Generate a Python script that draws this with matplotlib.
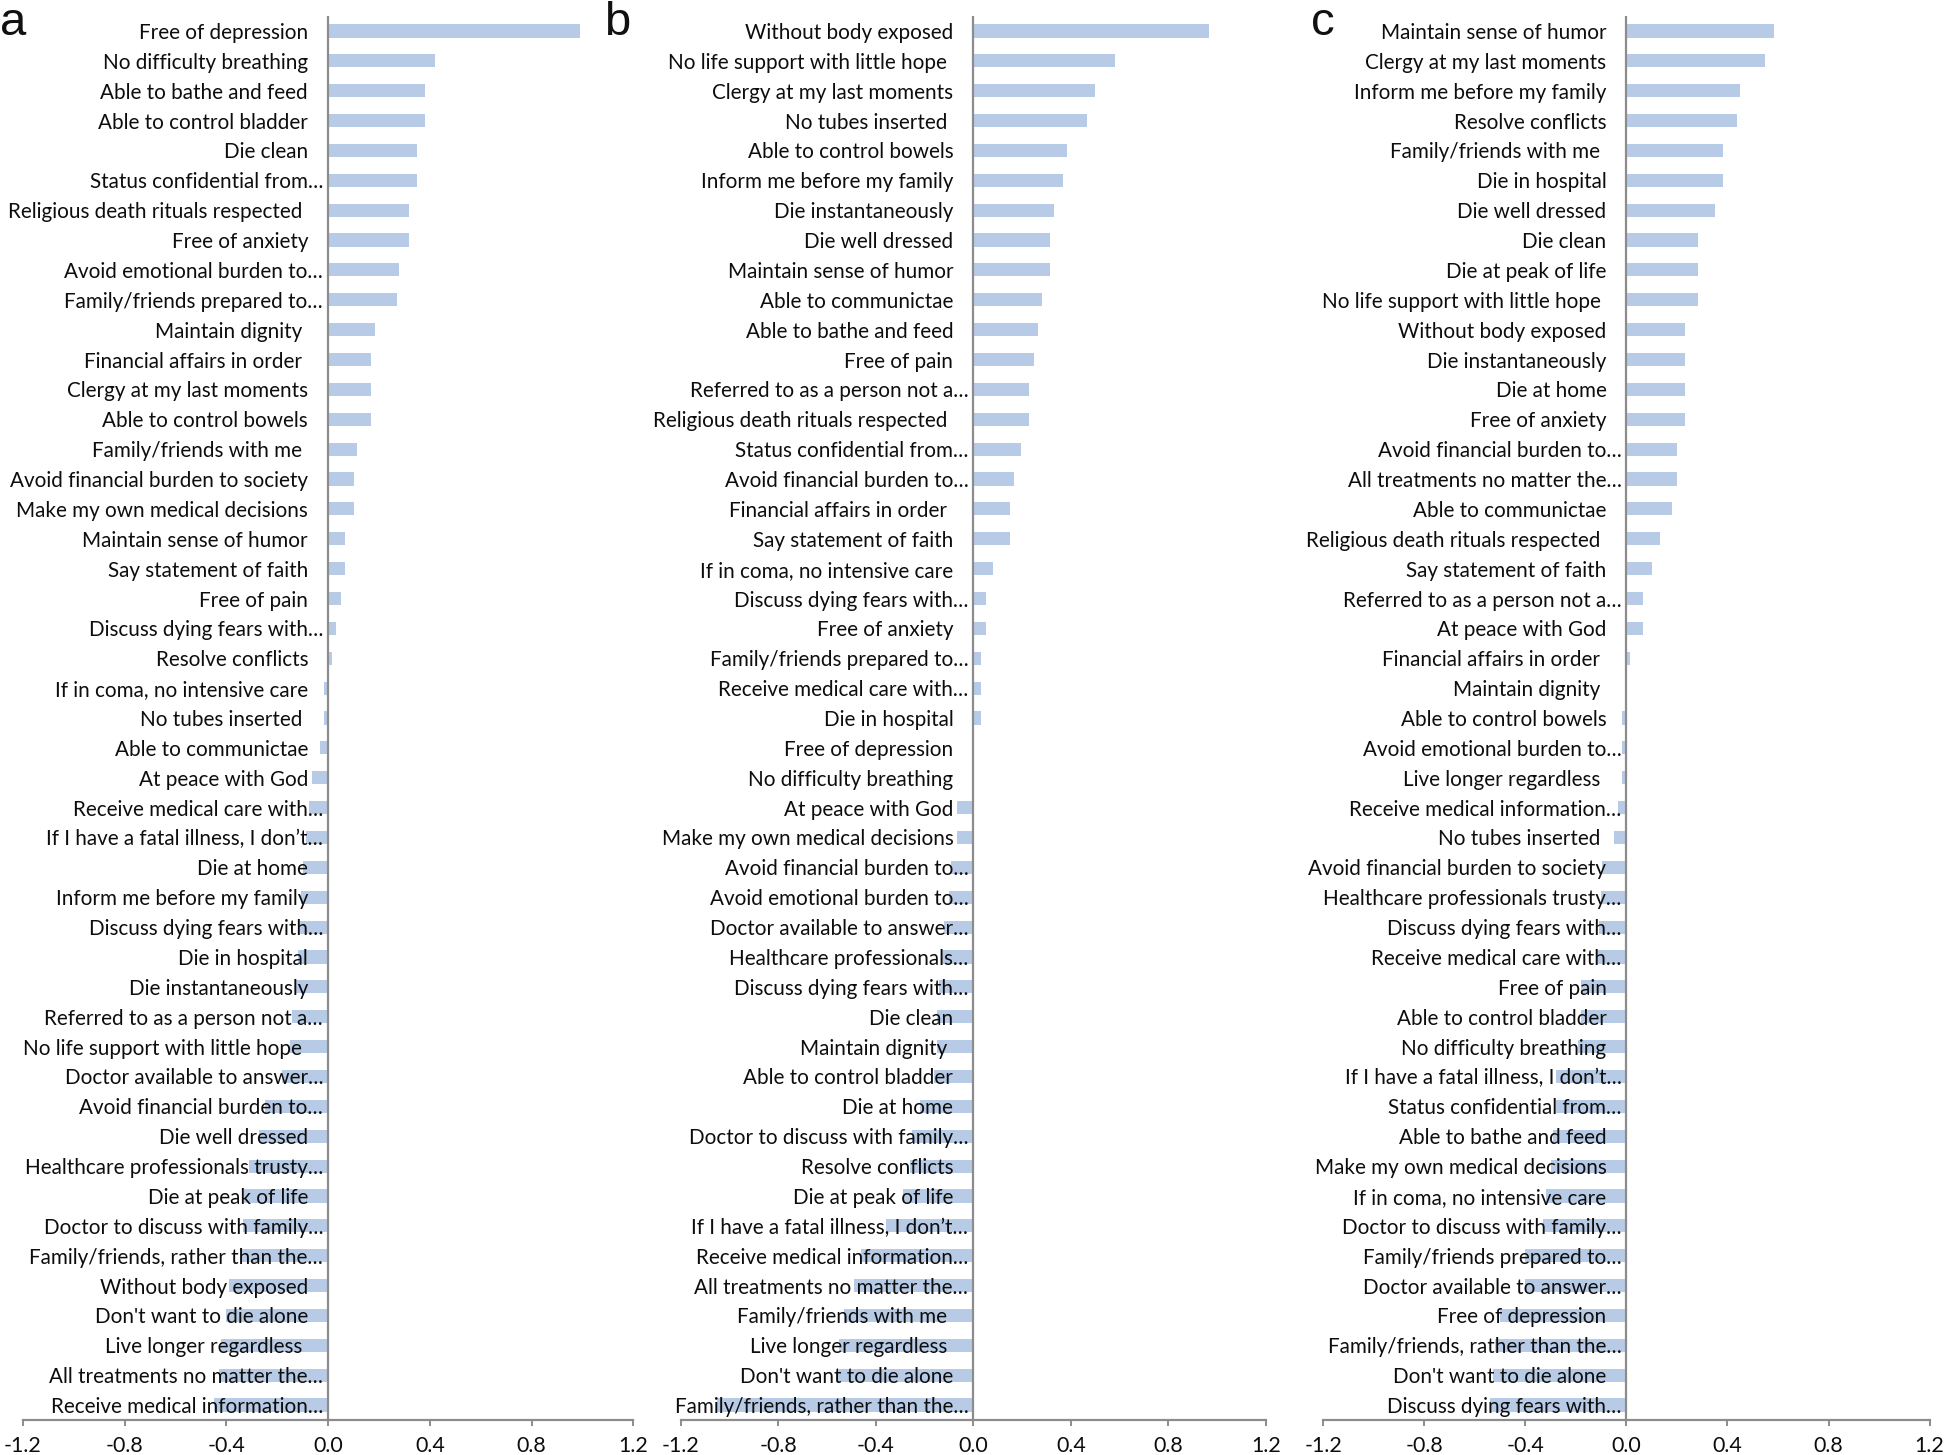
import numpy as np
import matplotlib
matplotlib.use("Agg")
import matplotlib.pyplot as plt
from matplotlib.transforms import offset_copy

plt.rcParams['axes.unicode_minus'] = False

# ---------------- data ----------------
a_labels = ["Free of depression", "No difficulty breathing", "Able to bathe and feed",
            "Able to control bladder", "Die clean", "Status confidential from…",
            "Religious death rituals respected ", "Free of anxiety",
            "Avoid emotional burden to…", "Family/friends prepared to…",
            "Maintain dignity ", "Financial affairs in order ", "Clergy at my last moments",
            "Able to control bowels", "Family/friends with me ",
            "Avoid financial burden to society", "Make my own medical decisions",
            "Maintain sense of humor", "Say statement of faith", "Free of pain",
            "Discuss dying fears with…", "Resolve conflicts", "If in coma, no intensive care",
            "No tubes inserted ", "Able to communictae", "At peace with God",
            "Receive medical care with…", "If I have a fatal illness, I don’t…",
            "Die at home", "Inform me before my family", "Discuss dying fears with…",
            "Die in hospital", "Die instantaneously", "Referred to as a person not a…",
            "No life support with little hope ", "Doctor available to answer…",
            "Avoid financial burden to…", "Die well dressed",
            "Healthcare professionals trusty…", "Die at peak of life",
            "Doctor to discuss with family…", "Family/friends, rather than the…",
            "Without body exposed", "Don't want to die alone", "Live longer regardless ",
            "All treatments no matter the…", "Receive medical information…"]
a_values = [0.99, 0.42, 0.38, 0.38, 0.35, 0.35, 0.32, 0.32, 0.28, 0.27,
            0.185, 0.17, 0.17, 0.17, 0.115, 0.10, 0.10, 0.067, 0.067, 0.05,
            0.03, 0.015, -0.015, -0.015, -0.03, -0.065, -0.075, -0.085, -0.10, -0.105,
            -0.11, -0.12, -0.13, -0.14, -0.15, -0.18, -0.25, -0.27, -0.31, -0.33,
            -0.335, -0.345, -0.39, -0.40, -0.42, -0.43, -0.45]

b_labels = ["Without body exposed", "No life support with little hope ",
            "Clergy at my last moments", "No tubes inserted ", "Able to control bowels",
            "Inform me before my family", "Die instantaneously", "Die well dressed",
            "Maintain sense of humor", "Able to communictae", "Able to bathe and feed",
            "Free of pain", "Referred to as a person not a…",
            "Religious death rituals respected ", "Status confidential from…",
            "Avoid financial burden to…", "Financial affairs in order ",
            "Say statement of faith", "If in coma, no intensive care",
            "Discuss dying fears with…", "Free of anxiety", "Family/friends prepared to…",
            "Receive medical care with…", "Die in hospital", "Free of depression",
            "No difficulty breathing", "At peace with God", "Make my own medical decisions",
            "Avoid financial burden to…", "Avoid emotional burden to…",
            "Doctor available to answer…", "Healthcare professionals…",
            "Discuss dying fears with…", "Die clean", "Maintain dignity ",
            "Able to control bladder", "Die at home", "Doctor to discuss with family…",
            "Resolve conflicts", "Die at peak of life", "If I have a fatal illness, I don’t…",
            "Receive medical information…", "All treatments no matter the…",
            "Family/friends with me ", "Live longer regardless ", "Don't want to die alone",
            "Family/friends, rather than the…"]
b_values = [0.966, 0.58, 0.50, 0.467, 0.385, 0.368, 0.333, 0.316, 0.316, 0.282,
            0.265, 0.248, 0.23, 0.23, 0.197, 0.166, 0.15, 0.15, 0.082, 0.051,
            0.051, 0.031, 0.031, 0.031, 0.0, 0.0, -0.065, -0.065, -0.09, -0.10,
            -0.12, -0.13, -0.14, -0.15, -0.15, -0.16, -0.22, -0.25, -0.26, -0.29,
            -0.36, -0.46, -0.49, -0.53, -0.55, -0.56, -1.05]

c_labels = ["Maintain sense of humor", "Clergy at my last moments",
            "Inform me before my family", "Resolve conflicts", "Family/friends with me ",
            "Die in hospital", "Die well dressed", "Die clean", "Die at peak of life",
            "No life support with little hope ", "Without body exposed",
            "Die instantaneously", "Die at home", "Free of anxiety",
            "Avoid financial burden to…", "All treatments no matter the…",
            "Able to communictae", "Religious death rituals respected ",
            "Say statement of faith", "Referred to as a person not a…", "At peace with God",
            "Financial affairs in order ", "Maintain dignity ", "Able to control bowels",
            "Avoid emotional burden to…", "Live longer regardless ",
            "Receive medical information…", "No tubes inserted ",
            "Avoid financial burden to society", "Healthcare professionals trusty…",
            "Discuss dying fears with…", "Receive medical care with…", "Free of pain",
            "Able to control bladder", "No difficulty breathing",
            "If I have a fatal illness, I don’t…", "Status confidential from…",
            "Able to bathe and feed", "Make my own medical decisions",
            "If in coma, no intensive care", "Doctor to discuss with family…",
            "Family/friends prepared to…", "Doctor available to answer…",
            "Free of depression", "Family/friends, rather than the…",
            "Don't want to die alone", "Discuss dying fears with…"]
c_values = [0.584, 0.55, 0.449, 0.436, 0.383, 0.383, 0.35, 0.284, 0.284, 0.284,
            0.231, 0.231, 0.231, 0.231, 0.20, 0.20, 0.18, 0.132, 0.10, 0.066,
            0.066, 0.016, 0.0, -0.016, -0.016, -0.016, -0.033, -0.05, -0.095, -0.10,
            -0.11, -0.12, -0.18, -0.18, -0.19, -0.28, -0.28, -0.29, -0.30, -0.32,
            -0.33, -0.40, -0.40, -0.50, -0.52, -0.53, -0.54]

panel_letters = ["a", "b", "c"]
xticks = [-1.2, -0.8, -0.4, 0.0, 0.4, 0.8, 1.2]

# ---------------- style ----------------
W, H = 1944, 1455
BAR = "#B8CBE6"
GRAY = "#8C8C8C"
FONT = ["Lato", "DejaVu Sans"]
FS = 14.9

fig = plt.figure(figsize=(W / 100, H / 100), dpi=100)

# axes extents in pixels (x of -1.2 and 1.2)
panels = [(22.9, 633.3), (680.8, 1265.8), (1323.3, 1929.6)]
y_bottom, y_top = 1420, 16
letter_pos = [(0, 35), (604, 35), (1311, 35)]

for (labels, values), (x0, x1), letter, (lx, ly) in zip(
        [(a_labels, a_values), (b_labels, b_values), (c_labels, c_values)],
        panels, panel_letters, letter_pos):
    ax = fig.add_axes([x0 / W, (H - y_bottom) / H, (x1 - x0) / W, (y_bottom - y_top) / H])
    n = len(labels)
    y = np.arange(n)
    ax.barh(y, values, height=0.44, color=BAR, zorder=1)
    ax.set_xlim(-1.2, 1.2)
    ax.set_ylim(n - 0.5, -0.5)
    ax.axvline(0, color=GRAY, lw=1.6, zorder=2)
    for s in ["top", "right", "left"]:
        ax.spines[s].set_visible(False)
    ax.spines["bottom"].set_color(GRAY)
    ax.spines["bottom"].set_linewidth(1.6)
    ax.set_yticks([])
    ax.set_xticks(xticks)
    ax.set_xticklabels([f"{t:.1f}" for t in xticks], family=FONT, fontsize=FS + 0.5)
    ax.tick_params(axis="x", direction="out", length=4.5, width=1.4, color=GRAY,
                   pad=7, labelcolor="#0d0d0d")
    ax.patch.set_alpha(0)
    for i, lab in enumerate(labels):
        if lab.endswith("…"):
            pad = 5
        elif lab.endswith(" "):
            pad = 26
        else:
            pad = 20
        tr = offset_copy(ax.transData, fig=fig, x=-pad, y=0, units="dots")
        ax.text(0, i, lab.rstrip(), transform=tr, ha="right", va="center_baseline",
                family=FONT, fontsize=FS, color="#0d0d0d", zorder=3)
    fig.text(lx / W, 1 - ly / H, letter, family=["Liberation Sans", "DejaVu Sans"],
             fontsize=34, ha="left", va="baseline", color="#111111")

fig.savefig("out.png", dpi=100)
